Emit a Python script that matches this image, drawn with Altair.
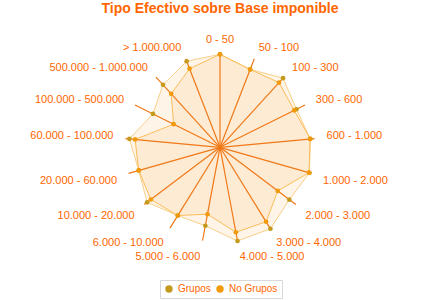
import altair as alt
import pandas as pd

categories = ["0 - 50", "50 - 100", "100 - 300", "300 - 600", "600 - 1.000",
              "1.000 - 2.000", "2.000 - 3.000", "3.000 - 4.000", "4.000 - 5.000",
              "5.000 - 6.000", "6.000 - 10.000", "10.000 - 20.000", "20.000 - 60.000",
              "60.000 - 100.000", "100.000 - 500.000", "500.000 - 1.000.000", "> 1.000.000"]
grupos = [93, 83.5, 93.6, 85.4, 90.6, 93, 86.9, 95.8, 95.3, 79.8, 80.2, 91.3, 84.5, 91, 74.9, 84.6, 92.3]
no_grupos = [93, 83.5, 87.6, 82.9, 90.6, 92.5, 72.4, 87.6, 86.4, 68.1, 80.2, 86.6, 84.5, 85.3, 51.8, 72.5, 84.3]
series = ["Grupos", "No Grupos"]
point_colors = ["#c49a1c", "#f39a0c"]
line_colors = ["#f8d088", "#fbbd5a"]

AXIS_MAX = 95
LABEL_R = 107
N = len(categories)

rows = []
for s, vals in zip(series, [grupos, no_grupos]):
    for k, (c, v) in enumerate(zip(categories, vals)):
        rows.append({"serie": s, "k": k, "cat": c, "v": v})
df = pd.DataFrame(rows)
cats = pd.DataFrame({"k": list(range(N)), "cat": categories})

theta = f"datum.k * 2 * PI / {N}"
xs = alt.Scale(domain=[-220, 220], nice=False, zero=False)
ys = alt.Scale(domain=[-127.7, 127.3], nice=False, zero=False)

base = alt.Chart(df).transform_calculate(
    th=theta
).transform_calculate(
    px="datum.v * sin(datum.th)", py="datum.v * cos(datum.th)"
)

X = alt.X("px:Q", scale=xs, axis=None)
Y = alt.Y("py:Q", scale=ys, axis=None)

fills = base.mark_line(filled=True, interpolate="linear-closed", color="#f5b040",
                       fillOpacity=0.12, strokeOpacity=0).encode(
    x=X, y=Y, detail="serie:N", order="k:Q",
)

line_layers = [
    base.transform_filter(alt.datum.serie == s).mark_line(
        interpolate="linear-closed", strokeWidth=1, color=lc
    ).encode(x=X, y=Y, order="k:Q")
    for s, lc in zip(series, line_colors)
]

cbase = alt.Chart(cats).transform_calculate(
    th=theta
).transform_calculate(
    sx=f"{AXIS_MAX} * sin(datum.th)", sy=f"{AXIS_MAX} * cos(datum.th)", zero="0",
    lx=f"{LABEL_R} * sin(datum.th)",
    ly=f"{LABEL_R} * cos(datum.th) + (cos(datum.th) < 0 ? -4.5 : (cos(datum.th) < 0.3 ? 1.8 : 0))",
)

spokes = cbase.mark_rule(color="#f07818", strokeWidth=1.2).encode(
    x=alt.X("zero:Q", scale=xs, axis=None), x2="sx:Q",
    y=alt.Y("zero:Q", scale=ys, axis=None), y2="sy:Q",
)

points = base.mark_circle(size=22, opacity=1).encode(
    x=X, y=Y,
    color=alt.Color("serie:N", scale=alt.Scale(domain=series, range=point_colors),
                    legend=alt.Legend(title=None, orient="none", legendX=160, legendY=260,
                                      direction="horizontal", symbolType="circle", symbolSize=55,
                                      labelColor="#ff6600", labelFontSize=10, labelFont="Liberation Sans",
                                      strokeColor="#d8d8d8", padding=4, columnPadding=4,
                                      labelOffset=4, gridAlign="none")),
)

def labels(filt, align):
    return cbase.transform_filter(filt).mark_text(
        align=align, baseline="middle", fontSize=11, font="Liberation Sans", color="#ff6600"
    ).encode(
        x=alt.X("lx:Q", scale=xs, axis=None),
        y=alt.Y("ly:Q", scale=ys, axis=None),
        text="cat:N",
    )

lab_c = labels("datum.k == 0", "center")
lab_r = labels(f"datum.k > 0 && datum.k <= {N // 2}", "left")
lab_l = labels(f"datum.k > {N // 2}", "right")

chart = alt.layer(fills, spokes, *line_layers, points, lab_c, lab_r, lab_l).properties(
    width=440, height=255,
    padding={"left": 0, "top": 20, "right": 0, "bottom": 25},
    autosize=alt.AutoSizeParams(type="none"),
    title=alt.TitleParams("Tipo Efectivo sobre Base imponible", fontSize=14, fontWeight="bold",
                          color="#ff6600", font="Liberation Sans", anchor="middle", offset=4),
).configure_view(stroke=None)

chart.save("out.html", embed_options={"renderer": "svg", "actions": False})
